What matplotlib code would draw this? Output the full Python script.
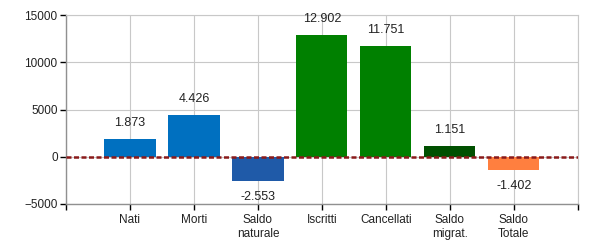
import matplotlib.pyplot as plt
from matplotlib.ticker import FixedLocator

plt.rcParams['font.family'] = ['Liberation Sans', 'DejaVu Sans']

categories = ['Nati', 'Morti', 'Saldo\nnaturale', 'Iscritti', 'Cancellati', 'Saldo\nmigrat.', 'Saldo\nTotale']
values = [1873, 4426, -2553, 12902, 11751, 1151, -1402]
colors = ['#0070C0', '#0070C0', '#1F5AA8', '#008000', '#008000', '#005000', '#FF7F3F']

def fmt_it(v):
    return '{:,}'.format(v).replace(',', '.')

fig = plt.figure(figsize=(6, 2.5), dpi=100)
ax = fig.add_axes([0.11, 0.184, 0.853, 0.756])

pos = list(range(1, len(values) + 1))
ax.bar(pos, values, width=0.8, color=colors, zorder=2)
ax.axhline(0, color='#8B1A1A', linestyle=(0, (2.0, 1.0)), linewidth=1.8, zorder=3)

for x, v in zip(pos, values):
    if v >= 0:
        ax.annotate(fmt_it(v), (x, v), xytext=(0, 7), textcoords='offset points',
                    ha='center', va='bottom', fontsize=9, color='#222222')
    else:
        ax.annotate(fmt_it(v), (x, v), xytext=(0, -7), textcoords='offset points',
                    ha='center', va='top', fontsize=9, color='#222222')

ax.set_xlim(0, len(values) + 1)
ax.set_ylim(-5000, 15000)
ax.set_yticks([-5000, 0, 5000, 10000, 15000])
ax.xaxis.set_major_locator(FixedLocator(list(range(0, len(values) + 2))))
ax.set_xticklabels([''] + categories + [''])

ax.grid(True, color='#C8C8C8', linewidth=0.8, zorder=0)
ax.set_axisbelow(True)
for s in ['top', 'right']:
    ax.spines[s].set_color('#C8C8C8')
    ax.spines[s].set_linewidth(0.8)
for s in ['left', 'bottom']:
    ax.spines[s].set_color('#909090')
    ax.spines[s].set_linewidth(1.0)
ax.tick_params(axis='both', length=4, width=1, color='#000000', labelsize=8.5, labelcolor='#222222', pad=2)
ax.tick_params(axis='x', pad=3)

fig.savefig('out.png', dpi=100)
